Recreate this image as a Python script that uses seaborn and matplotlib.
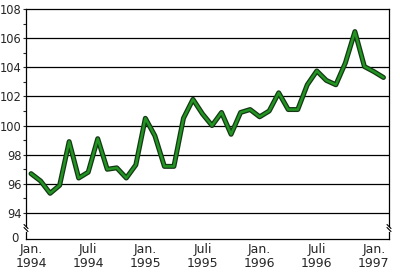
import matplotlib
matplotlib.use("Agg")
import matplotlib.pyplot as plt
import seaborn as sns
import pandas as pd
import numpy as np

# Monthly index values, Jan 1994 .. Feb 1997
values = [96.7, 96.2, 95.35, 95.9, 98.9, 96.4, 96.8, 99.1, 97.0, 97.1, 96.4, 97.3,
          100.5, 99.3, 97.2, 97.2, 100.5, 101.8, 100.8, 100.0, 100.9, 99.4, 100.9, 101.1,
          100.6, 101.0, 102.25, 101.1, 101.1, 102.8, 103.75, 103.1, 102.8, 104.3, 106.45, 104.05,
          103.7, 103.3]
month_index = list(range(len(values)))
tick_positions = [0, 6, 12, 18, 24, 30, 36]
tick_labels = ["Jan.\n1994", "Juli\n1994", "Jan.\n1995", "Juli\n1995",
               "Jan.\n1996", "Juli\n1996", "Jan.\n1997"]
y_major = [94, 96, 98, 100, 102, 104, 106, 108]
y_minor = [95, 97, 99, 101, 103, 105, 107]

df = pd.DataFrame({"month": month_index, "value": values})

sns.set_style("white")
plt.rcParams["font.family"] = ["DejaVu Sans"]

fig = plt.figure(figsize=(4, 2.75), dpi=100)
W, H = 400, 275
left_px, right_px = 26, 389
top_px, top_bot_px = 9, 226
bot_top_px, bot_bot_px = 232, 239

ax = fig.add_axes([left_px / W, 1 - top_bot_px / H, (right_px - left_px) / W,
                   (top_bot_px - top_px) / H])
axb = fig.add_axes([left_px / W, 1 - bot_bot_px / H, (right_px - left_px) / W,
                    (bot_bot_px - bot_top_px) / H])

xlim = (-0.53, 37.58)

# line: dark outline + green core
sns.lineplot(data=df, x="month", y="value", ax=ax, color="#143814", lw=3.6,
             legend=False)
sns.lineplot(data=df, x="month", y="value", ax=ax, color="#229422", lw=1.8,
             legend=False)

ax.set_xlim(*xlim)
ax.set_ylim(94 - 13 / 14.57, 108)
ax.set_yticks(y_major)
ax.set_yticks(y_minor, minor=True)
ax.set_yticklabels([str(v) for v in y_major], fontsize=8.3)
ax.tick_params(axis="y", which="major", length=2.5, width=0.8, pad=0.5, left=True)
ax.tick_params(axis="y", which="minor", length=2, width=0.8, left=True)
ax.set_xticks([])
ax.set_xlabel("")
ax.set_ylabel("")
for v in y_major[:-1]:
    ax.axhline(v, color="black", lw=0.9, zorder=0)
for s in ["left", "right", "top"]:
    ax.spines[s].set_visible(True)
    ax.spines[s].set_color("black")
    ax.spines[s].set_linewidth(0.9)
ax.spines["bottom"].set_visible(False)

# bottom strip with zero and time axis
axb.set_xlim(*xlim)
axb.set_ylim(-1, 1.8)
axb.set_yticks([0])
axb.set_yticklabels(["0"], fontsize=8.5)
axb.tick_params(axis="y", length=0, pad=5)
axb.set_xticks(tick_positions)
axb.set_xticks(month_index, minor=True)
axb.set_xticklabels(tick_labels, fontsize=9, linespacing=1.05)
axb.tick_params(axis="x", which="major", direction="in", length=4, width=0.8, pad=3)
axb.tick_params(axis="x", which="minor", direction="in", length=2.5, width=0.8)
for s in ["left", "right", "bottom"]:
    axb.spines[s].set_visible(True)
    axb.spines[s].set_color("black")
    axb.spines[s].set_linewidth(0.9)
axb.spines["top"].set_visible(False)
axb.patch.set_alpha(0)

# break marks
for xp in (left_px, right_px):
    for dy in (-1.5, 1.5):
        xf = xp / W
        yc = 1 - (228 + dy) / H
        fig.add_artist(plt.Line2D([xf - 2 / W, xf + 2 / W], [yc + 2 / H, yc - 2 / H],
                                  color="black", lw=0.8, transform=fig.transFigure))

fig.savefig("out.png", dpi=100)
